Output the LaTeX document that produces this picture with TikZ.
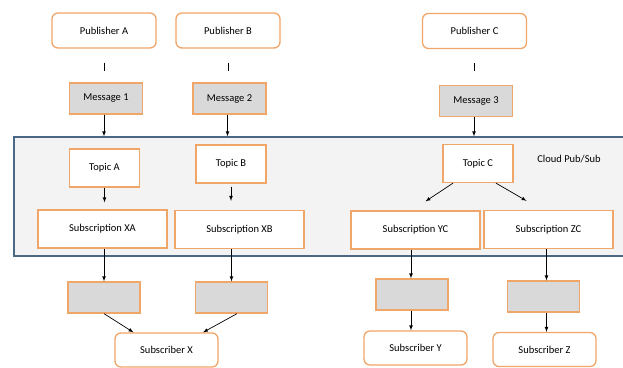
\documentclass[tikz,border=0pt]{standalone}
\usepackage{fontspec}
\setmainfont{Carlito}
\usetikzlibrary{arrows,positioning}

\definecolor{boxorange}{RGB}{240,165,105}
\definecolor{msggray}{RGB}{217,217,217}
\definecolor{cloudfill}{RGB}{243,243,243}
\definecolor{cloudline}{RGB}{75,105,135}

\tikzset{
  box/.style={draw=boxorange, line width=1.3pt, fill=white, font=\fontsize{10.5}{12}\selectfont},
  pub/.style={box, rounded corners=6pt, minimum width=104pt, minimum height=35pt},
  msg/.style={box, fill=msggray, minimum width=73pt, minimum height=31pt},
  topic/.style={box, minimum width=70pt, minimum height=38pt},
  subn/.style={box, minimum width=129pt, minimum height=38pt},
  hold/.style={box, fill=msggray, minimum width=72pt, minimum height=31pt},
  client/.style={box, rounded corners=6pt, minimum width=103pt, minimum height=34pt},
}

\begin{document}
\begin{tikzpicture}[x=1pt,y=-1pt,>=latex,line width=0.7pt]
\useasboundingbox (0,0) rectangle (623,367);

% the Pub/Sub service
\node[draw=cloudline, line width=1.3pt, fill=cloudfill, minimum width=612pt, minimum height=119pt,
  inner sep=0pt] (cloud) at (320,196.5) {};
\node[font=\fontsize{10.5}{12}\selectfont] (label) at (569,159) {Cloud Pub/Sub};

% publishers and messages
\node[pub] (pa) at (104,30.5) {Publisher A};
\node[pub] (pb) at (228,30.5) {Publisher B};
\node[pub] (pc) at (474.5,31) {Publisher C};
\node[msg] (m1) at (106,98.5) {Message 1};
\node[msg] (m2) at (229.5,98.5) {Message 2};
\node[msg] (m3) at (476,101) {Message 3};

% topics and subscriptions
\node[topic] (ta) at (104.5,168) {Topic A};
\node[topic] (tb) at (231,164) {Topic B};
\node[topic] (tc) at (478,163.5) {Topic C};
\node[subn] (sxa) at (102.5,229) {Subscription XA};
\node[subn] (sxb) at (239.5,229.5) {Subscription XB};
\node[subn] (syc) at (415.5,230) {Subscription YC};
\node[subn] (szc) at (548.5,229.5) {Subscription ZC};

% subscribers
\node[hold] (ga) at (104,297.5) {};
\node[hold] (gb) at (231.5,297.5) {};
\node[hold] (gy) at (412,294.5) {};
\node[hold] (gz) at (543.5,296.5) {};
\node[client] (sx) at (166.5,350) {Subscriber X};
\node[client] (sy) at (415.5,348) {Subscriber Y};
\node[client] (sz) at (544.5,349.5) {Subscriber Z};

\foreach \p in {pa,pb,pc}
  \draw ([yshift=-14pt]\p.south) -- ([yshift=-22pt]\p.south);

\draw[->] ([xshift=-2pt]m1.south) -- ([xshift=-2pt]m1.south |- cloud.north);
\draw[->] ([xshift=-2pt]m2.south) -- ([xshift=-2pt]m2.south |- cloud.north);
\draw[->] ([xshift=-2pt]m3.south) -- ([xshift=-2pt]m3.south |- cloud.north);

\draw[->, shorten >=7pt] (ta.south) -- (ta.south |- sxa.north);
\draw[->, shorten <=3pt, shorten >=9pt] (tb.south) -- (tb.south |- sxb.north);
\draw[->] ([xshift=-25pt]tc.south) -- ([xshift=10pt,yshift=9pt]syc.north);
\draw[->] ([xshift=18pt]tc.south) -- ([xshift=-22pt,yshift=9pt]szc.north);

\draw[->] (ga.north |- sxa.south) -- (ga.north);
\draw[->] (gb.north |- sxb.south) -- (gb.north);
\draw[->] ([xshift=-1pt]gy.north |- syc.south) -- ([xshift=-1pt]gy.north);
\draw[->] ([xshift=3pt]gz.north |- szc.south) -- ([xshift=3pt]gz.north);

\draw[->] (ga.south) -- ([xshift=-33pt]sx.north);
\draw[->] ([xshift=5.5pt]gb.south) -- ([xshift=36.5pt]sx.north);
\draw[->] ([xshift=-1pt]gy.south) -- ([xshift=-1pt]gy.south |- sy.north);
\draw[->] ([xshift=3pt]gz.south) -- ([xshift=3pt]gz.south |- sz.north);
\end{tikzpicture}
\end{document}
